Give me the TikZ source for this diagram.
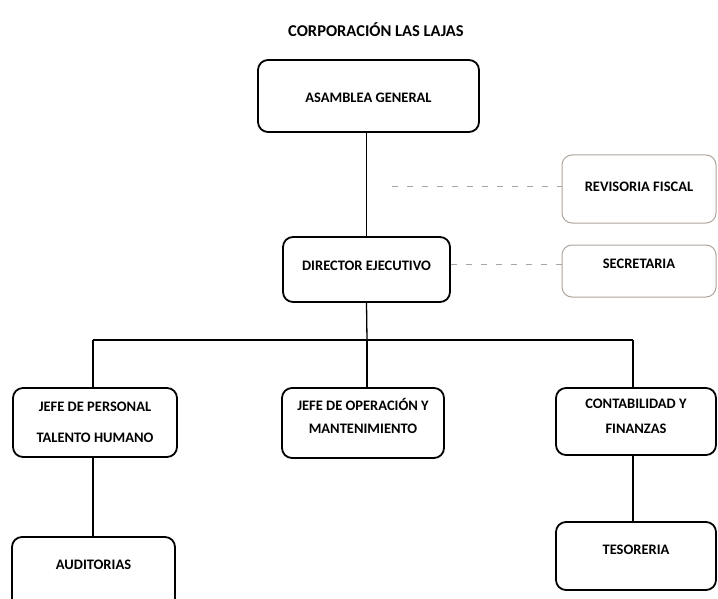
\documentclass[tikz,border=0pt]{standalone}
\usepackage{fontspec}
\setmainfont{Carlito}
\begin{document}
\begin{tikzpicture}[x=1pt,y=-1pt,
  box/.style={draw=black, line width=1.8pt, rounded corners=10pt, inner sep=0pt},
  faint/.style={draw={rgb,255:red,175;green,165;blue,155}, line width=1pt, rounded corners=10pt, inner sep=0pt},
  txt/.style={font=\bfseries\fontsize{14.5}{16}\selectfont, inner sep=0pt, anchor=center},
  conn/.style={line width=1.3pt, draw=black},
  dconn/.style={line width=1pt, draw={rgb,255:red,170;green,165;blue,160}, dash pattern=on 6pt off 9pt}]
\useasboundingbox (0,0) rectangle (718,599);
% title
\node[font=\bfseries\fontsize{16.5}{18}\selectfont, inner sep=0pt] (title) at (376,30) {CORPORACIÓN LAS LAJAS};
% boxes
\node[box, minimum width=221pt, minimum height=72pt] (asm) at (368.5,96) {};
\node[txt] (asmT) at (368.5,98) {ASAMBLEA GENERAL};
\node[box, minimum width=167pt, minimum height=65pt] (dir) at (366.5,269.5) {};
\node[txt] (dirT) at (366.5,266) {DIRECTOR EJECUTIVO};
\node[faint, minimum width=154pt, minimum height=68pt] (rev) at (639,189) {};
\node[txt] (revT) at (639,187) {REVISORIA FISCAL};
\node[faint, minimum width=154pt, minimum height=52pt] (sec) at (639,271) {};
\node[txt] (secT) at (639,264) {SECRETARIA};
\node[box, minimum width=164pt, minimum height=69pt] (jp) at (95,422.5) {};
\node[txt] (jpT1) at (95,407) {JEFE DE PERSONAL};
\node[txt] (jpT2) at (95,438) {TALENTO HUMANO};
\node[box, minimum width=162pt, minimum height=70pt] (jo) at (363,423) {};
\node[txt] (joT1) at (363,404) {JEFE DE OPERACIÓN Y};
\node[txt] (joT2) at (363,429) {MANTENIMIENTO};
\node[box, minimum width=160pt, minimum height=67pt] (cf) at (636,421.5) {};
\node[txt] (cfT1) at (636,404) {CONTABILIDAD Y};
\node[txt] (cfT2) at (636,429) {FINANZAS};
\node[box, minimum width=163pt, minimum height=80pt] (aud) at (93.5,577) {};
\node[txt] (audT) at (93.5,565) {AUDITORIAS};
\node[box, minimum width=160pt, minimum height=68pt] (tes) at (636,556) {};
\node[txt] (tesT) at (636,550) {TESORERIA};
% connectors
\coordinate (hl) at (93,340);
\coordinate (hc) at (367,340);
\coordinate (hr) at (633,340);
\coordinate (dv) at (392,187);
\draw[conn] (asm.south -| dir.north) -- (dir.north);
\draw[conn] (dir.south) -- (hc);
\draw[conn] (hl) -- (hr);
\draw[conn] (hl) -- (hl |- jp.north);
\draw[conn] (hc) -- (hc |- jo.north);
\draw[conn] (hr) -- (hr |- cf.north);
\draw[conn] (jp.south -| hl) -- (aud.north -| hl);
\draw[conn] (cf.south -| hr) -- (tes.north -| hr);
\draw[dconn] (dv) -- (rev.west |- dv);
\draw[dconn] (dir.east |- secT) -- (sec.west |- secT);
\end{tikzpicture}
\end{document}
